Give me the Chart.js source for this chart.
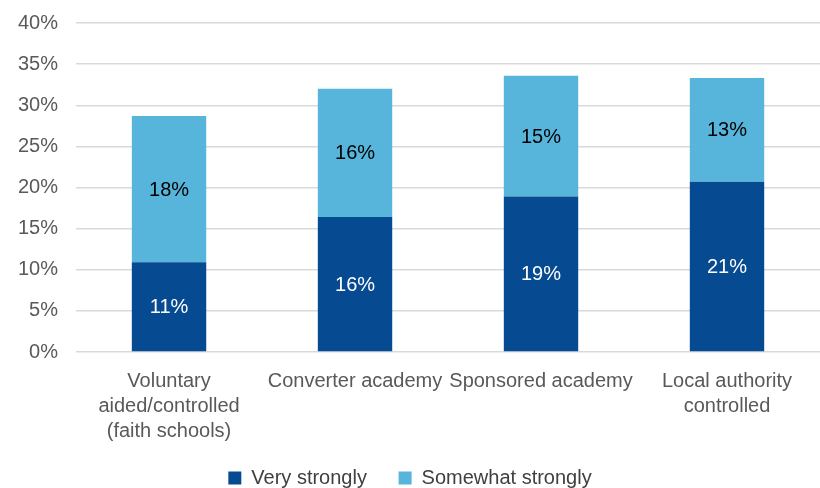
<!DOCTYPE html>
<html>
<head>
<meta charset="utf-8">
<script src="https://cdn.jsdelivr.net/npm/chart.js@4"></script>
<style>
  html, body { margin: 0; padding: 0; background: #fff; }
  #wrap { width: 820px; height: 488px; }
</style>
</head>
<body>
<div id="wrap"><canvas id="chart"></canvas></div>
<script>
const categories = [
    ['Voluntary', 'aided/controlled', '(faith schools)'],
    'Converter academy',
    'Sponsored academy',
    ['Local authority', 'controlled']
];
const veryStrongly = [10.9, 16.4, 18.9, 20.7];
const somewhatStrongly = [17.8, 15.6, 14.7, 12.6];
const seriesNames = ['Very strongly', 'Somewhat strongly'];

const FONT = "'Liberation Sans', Arial, sans-serif";

// draws the % value in the middle of each bar segment
const barLabels = {
    id: 'barLabels',
    afterDatasetsDraw(chart) {
        const ctx = chart.ctx;
        ctx.save();
        ctx.font = '20px ' + FONT;
        ctx.textAlign = 'center';
        ctx.textBaseline = 'middle';
        chart.data.datasets.forEach((ds, i) => {
            const meta = chart.getDatasetMeta(i);
            meta.data.forEach((bar, j) => {
                const y = (bar.y + bar.base) / 2;
                ctx.fillStyle = i === 0 ? '#ffffff' : '#000000';
                ctx.fillText(Math.round(ds.data[j]) + '%', bar.x, y + 1);
            });
        });
        ctx.restore();
    }
};

const ctx = document.getElementById('chart');
new Chart(ctx, {
    type: 'bar',
    data: {
        labels: categories,
        datasets: [
            { label: seriesNames[0], data: veryStrongly, backgroundColor: '#064a91' },
            { label: seriesNames[1], data: somewhatStrongly, backgroundColor: '#57b5dc' }
        ]
    },
    options: {
        responsive: true,
        maintainAspectRatio: false,
        animation: false,
        layout: { padding: { top: 4, right: 0, left: 0, bottom: -10 } },
        datasets: { bar: { categoryPercentage: 1, barPercentage: 0.4 } },
        plugins: {
            tooltip: { enabled: false },
            legend: {
                position: 'bottom',
                labels: {
                    boxWidth: 13,
                    boxHeight: 13,
                    padding: 15,
                    color: '#404040',
                    font: { family: FONT, size: 20 },
                    generateLabels(chart) {
                        const items = Chart.defaults.plugins.legend.labels.generateLabels(chart);
                        // a bit more room between the two entries
                        items[0].text = items[0].text + '\u00a0\u00a0\u00a0';
                        return items;
                    }
                }
            }
        },
        scales: {
            x: {
                stacked: true,
                grid: { display: false },
                border: { display: false },
                ticks: {
                    color: '#595959',
                    font: { family: FONT, size: 20, lineHeight: 1.25 },
                    maxRotation: 0,
                    autoSkip: false,
                    padding: 9
                }
            },
            y: {
                stacked: true,
                min: 0,
                max: 40,
                border: { display: false },
                grid: { color: '#d9d9d9', lineWidth: 1.5, drawTicks: false },
                ticks: {
                    stepSize: 5,
                    color: '#595959',
                    padding: 18,
                    font: { family: FONT, size: 20, lineHeight: 0.5 },
                    callback: v => v + '%'
                }
            }
        }
    },
    plugins: [barLabels]
});
</script>
</body>
</html>
